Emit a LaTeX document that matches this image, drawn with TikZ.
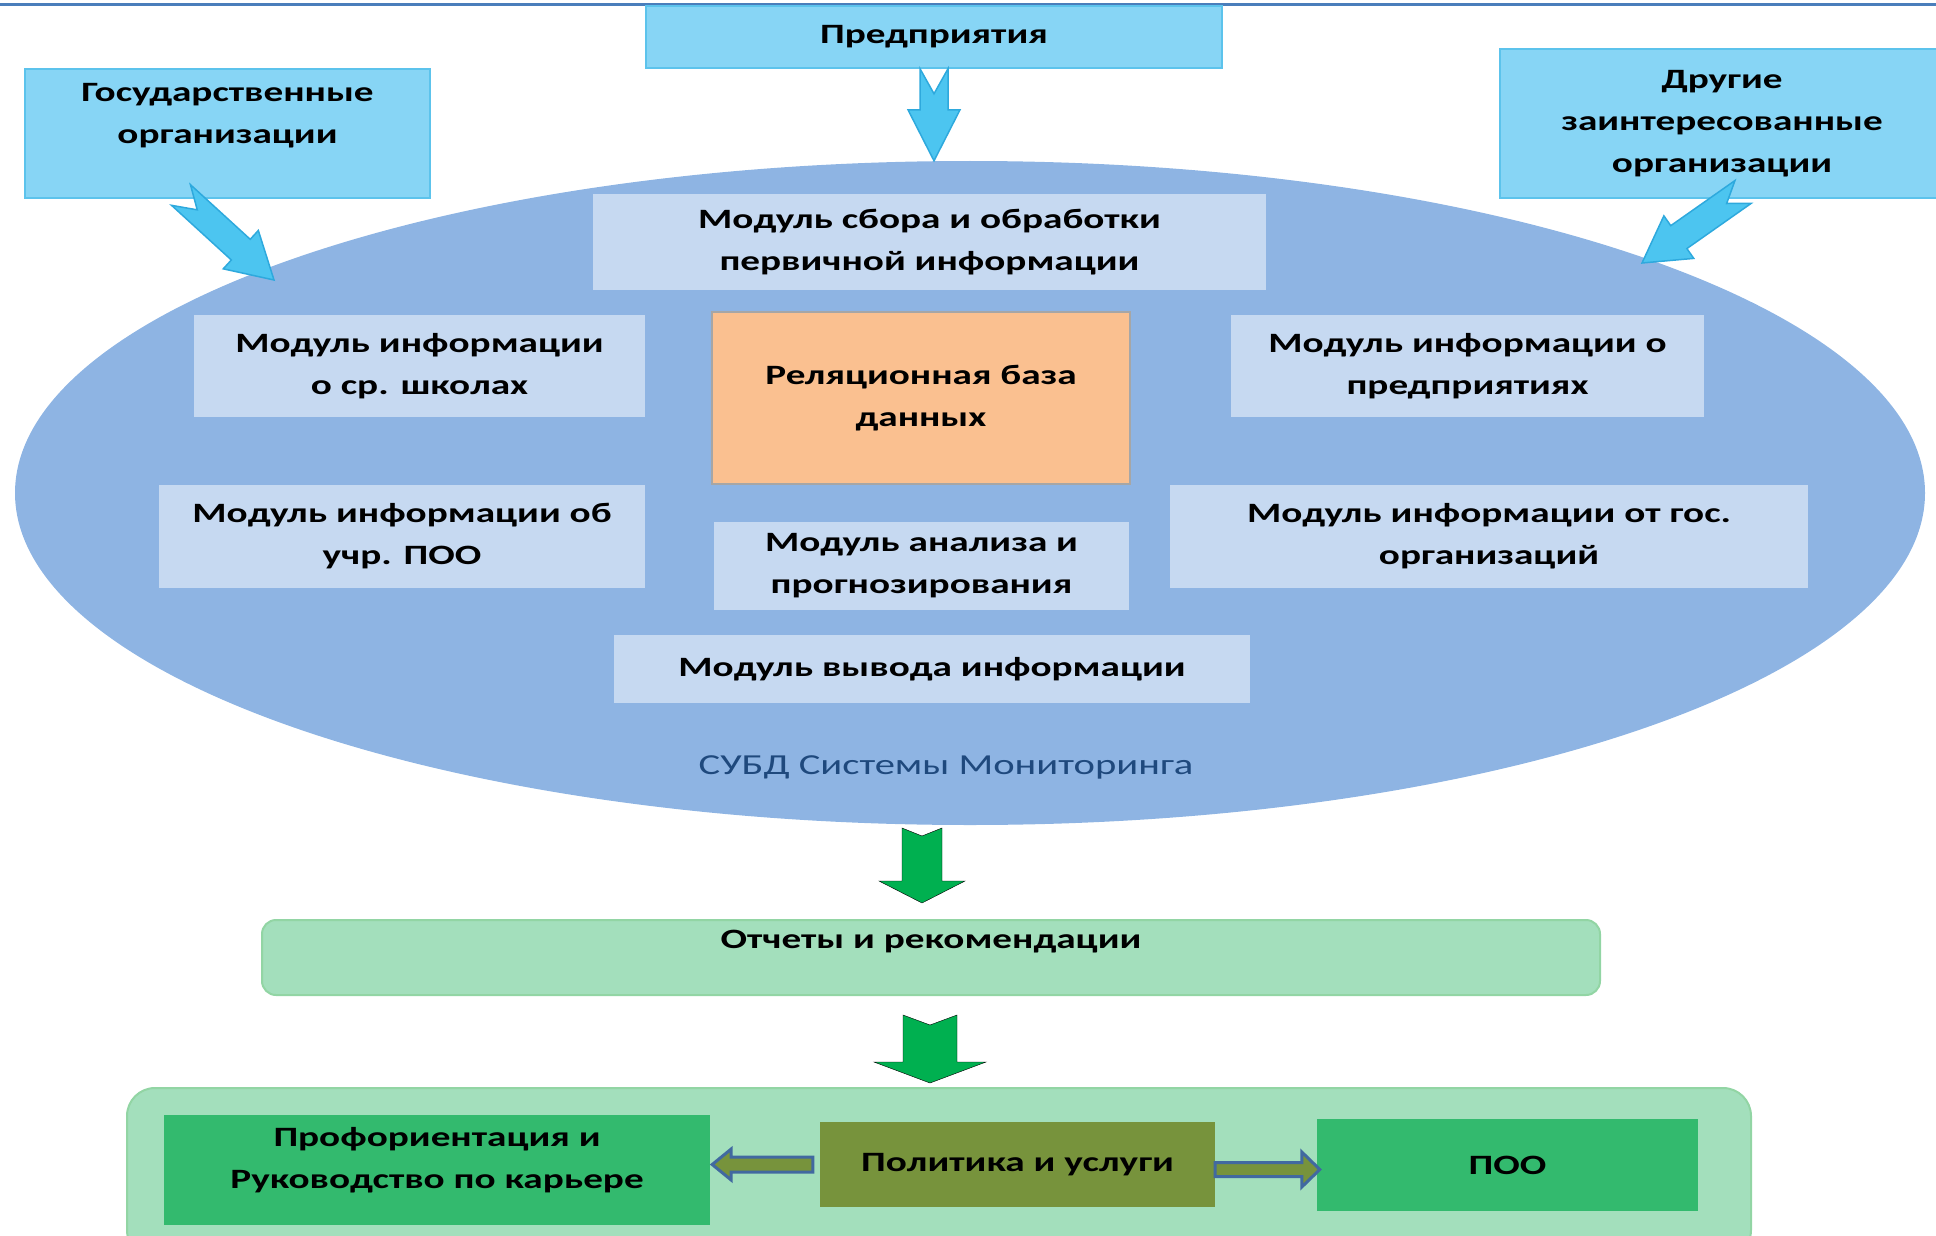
\documentclass[tikz,border=0pt]{standalone}
\usepackage{fontspec}
\setmainfont{Carlito}[FakeStretch=1.4]
\usetikzlibrary{shapes.geometric,calc}

\definecolor{lineaazul}{HTML}{4A7EBB}
\definecolor{cielo}{HTML}{87D5F5}
\definecolor{cieloborde}{HTML}{5CC3EC}
\definecolor{flechacielo}{HTML}{4CC5F0}
\definecolor{flechaborde}{HTML}{2EA9DD}
\definecolor{elipse}{HTML}{8EB4E3}
\definecolor{modfondo}{HTML}{C6D9F1}
\definecolor{naranja}{HTML}{FAC090}
\definecolor{gris}{HTML}{A6A6A6}
\definecolor{subdtexto}{HTML}{1F497D}
\definecolor{verdeflecha}{HTML}{00B050}
\definecolor{verdeclaro}{HTML}{A3DFBC}
\definecolor{verdeborde}{HTML}{92D5A4}
\definecolor{verdemedio}{HTML}{33BA6E}
\definecolor{oliva}{HTML}{77933C}
\definecolor{azulborde}{HTML}{4169A0}

% flecha de bloque: estilo, desde, hasta, medio ancho, medio ancho punta, largo punta, muesca
\newcommand{\bloqueflecha}[7]{%
	\path (#2) coordinate (baS) (#3) coordinate (baT) ($(baT)!#6!(baS)$) coordinate (baH);
	\filldraw[#1] ($(baS)!#4!90:(baT)$) -- ($(baS)!#7!(baT)$) -- ($(baS)!#4!-90:(baT)$)
		-- ($(baH)!#4!-90:(baT)$) -- ($(baH)!#5!-90:(baT)$) -- (baT)
		-- ($(baH)!#5!90:(baT)$) -- ($(baH)!#4!90:(baT)$) -- cycle;}

\begin{document}
\begin{tikzpicture}[x=1pt,y=-1pt,
		texto/.style={font=\bfseries\fontsize{28}{42}\selectfont,align=center,inner sep=0pt},
		superior/.style={texto,fill=cielo,draw=cieloborde,line width=1.5pt},
		modulo/.style={texto,fill=modfondo},
		flechaazul/.style={fill=flechacielo,draw=flechaborde,line width=1.5pt},
		flechaverde/.style={fill=verdeflecha},
		flechahueca/.style={fill=oliva,draw=azulborde,line width=3pt}]
			\useasboundingbox (0,0) rectangle (1936,1236);

			% Linea superior
			\draw[line width=3pt,lineaazul] (0,5) -- (1936,5);

			% Cajas superiores
			\node[superior,minimum width=576,minimum height=62] (pred) at (934,37) {Предприятия};
			\node[superior,minimum width=405,minimum height=129,text depth=40pt] (gos) at (227.5,133.5) {Государственные\\организации};
			\node[superior,minimum width=444,minimum height=149] (drug) at (1722,123.5) {Другие\\заинтересованные\\организации};

			% Elipse
			\node[ellipse,fill=elipse,minimum width=1910,minimum height=664,inner sep=0pt] (subd) at (970,493) {};
			\node[font=\fontsize{29}{32}\selectfont,text=subdtexto] (subdtxt) at (946,767) {СУБД Системы Мониторинга};

			% Modulos
			\node[modulo,minimum width=673,minimum height=96] (sbor) at (929.5,242) {Модуль сбора и обработки\\первичной информации};
			\node[modulo,minimum width=451,minimum height=102] (shkol) at (419.5,366) {Модуль информации\\о ср. школах};
			\node[texto,fill=naranja,draw=gris,line width=1.5pt,minimum width=418,minimum height=172] (baza) at (921,398) {Реляционная база\\данных};
			\node[modulo,minimum width=473,minimum height=102] (predpr) at (1467.5,366) {Модуль информации о\\предприятиях};
			\node[modulo,minimum width=486,minimum height=103] (uchr) at (402,536.5) {Модуль информации об\\учр. ПОО};
			\node[modulo,minimum width=415,minimum height=88] (analiz) at (921.5,566) {Модуль анализа и\\прогнозирования};
			\node[modulo,minimum width=638,minimum height=103] (gosorg) at (1489,536.5) {Модуль информации от гос.\\организаций};
			\node[modulo,minimum width=636,minimum height=68] (vyvod) at (932,669) {Модуль вывода информации};

			% Flechas de entrada
			\coordinate (predEnt) at (pred.south |- subd.north);
			\coordinate (gosSal) at (181,195);
			\coordinate (gosEnt) at (274,280);
			\coordinate (drugSal) at (1743,192);
			\coordinate (drugEnt) at (1642,263);
			\bloqueflecha{flechaazul}{pred.south}{predEnt}{14pt}{26pt}{51pt}{25pt}
			\bloqueflecha{flechaazul}{gosSal}{gosEnt}{14pt}{26pt}{45pt}{22pt}
			\bloqueflecha{flechaazul}{drugSal}{drugEnt}{14pt}{26pt}{45pt}{20pt}

			% Parte inferior
			\node[texto,fill=verdeclaro,draw=verdeborde,line width=2pt,rounded corners=14,minimum width=1338,minimum height=75,text depth=36pt] (otch) at (931,957.5) {Отчеты и рекомендации};
			\node[fill=verdeclaro,draw=verdeborde,line width=2pt,rounded corners=28,minimum width=1624,minimum height=170] (cont) at (939,1173) {};
			\node[texto,fill=verdemedio,minimum width=546,minimum height=110,text depth=24pt] (prof) at (437,1170) {Профориентация и\\Руководство по карьере};
			\node[texto,fill=oliva,minimum width=395,minimum height=85] (polit) at (1017.5,1164.5) {Политика и услуги};
			\node[texto,fill=verdemedio,minimum width=381,minimum height=92] (pooc) at (1507.5,1165) {ПОО};

			% Flechas verdes
			\coordinate (v1a) at (922,828);
			\coordinate (v1b) at (922,903);
			\coordinate (v2a) at (930,1015);
			\coordinate (v2b) at (930,1083);
			\bloqueflecha{flechaverde}{v1a}{v1b}{20pt}{43pt}{22pt}{8pt}
			\bloqueflecha{flechaverde}{v2a}{v2b}{27pt}{56pt}{21pt}{10pt}

			% Flechas huecas
			\bloqueflecha{flechahueca}{$(polit.west)+(-7,0)$}{$(prof.east |- polit.west)+(2,0)$}{7.5pt}{15.5pt}{19pt}{0pt}
			\bloqueflecha{flechahueca}{$(polit.east)+(0,5)$}{$(pooc.west |- polit.east)+(3,5)$}{7pt}{17.5pt}{18pt}{0pt}

		    \end{tikzpicture}
\end{document}
